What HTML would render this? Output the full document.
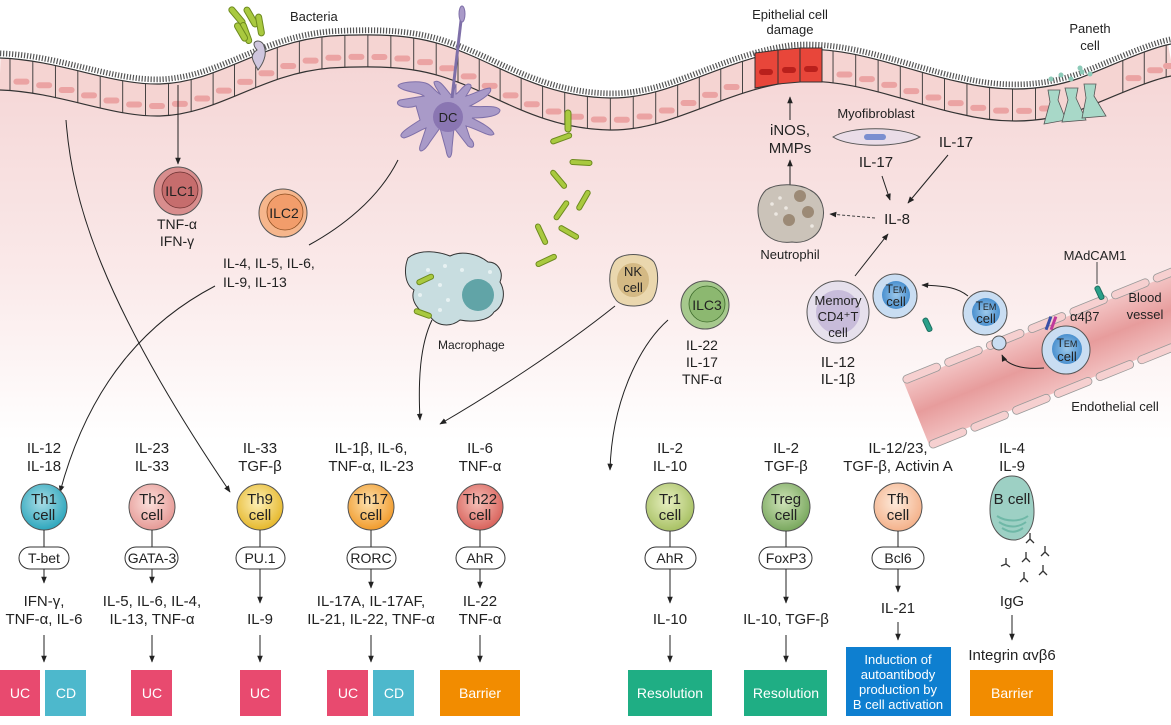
<!DOCTYPE html>
<html><head><meta charset="utf-8">
<style>
html,body{margin:0;padding:0;background:#fff;}
svg{display:block;font-family:"Liberation Sans",sans-serif;}
text{fill:#222;}
</style></head>
<body>
<svg id="s" width="1171" height="725" viewBox="0 0 1171 725" xmlns="http://www.w3.org/2000/svg">
<defs>
<linearGradient id="bg" x1="0" y1="0" x2="0" y2="1">
<stop offset="0" stop-color="#f5d6d6"/><stop offset="0.55" stop-color="#fae9e9"/><stop offset="1" stop-color="#ffffff"/>
</linearGradient>
<radialGradient id="gTh1" cx="0.45" cy="0.4" r="0.6"><stop offset="0" stop-color="#a9dde6"/><stop offset="1" stop-color="#2ea7bd"/></radialGradient>
<radialGradient id="gTh2" cx="0.45" cy="0.4" r="0.6"><stop offset="0" stop-color="#fbe0dc"/><stop offset="1" stop-color="#e69a96"/></radialGradient>
<radialGradient id="gTh9" cx="0.45" cy="0.4" r="0.6"><stop offset="0" stop-color="#fdf0b8"/><stop offset="1" stop-color="#e6b82c"/></radialGradient>
<radialGradient id="gTh17" cx="0.45" cy="0.4" r="0.6"><stop offset="0" stop-color="#fde2b0"/><stop offset="1" stop-color="#f19b2c"/></radialGradient>
<radialGradient id="gTh22" cx="0.45" cy="0.4" r="0.6"><stop offset="0" stop-color="#f6c0b8"/><stop offset="1" stop-color="#d9635c"/></radialGradient>
<radialGradient id="gTr1" cx="0.45" cy="0.4" r="0.6"><stop offset="0" stop-color="#e7efc0"/><stop offset="1" stop-color="#a8c164"/></radialGradient>
<radialGradient id="gTreg" cx="0.45" cy="0.4" r="0.6"><stop offset="0" stop-color="#cfe3b8"/><stop offset="1" stop-color="#79a85e"/></radialGradient>
<radialGradient id="gTfh" cx="0.45" cy="0.4" r="0.6"><stop offset="0" stop-color="#fdebdc"/><stop offset="1" stop-color="#f4b18a"/></radialGradient>
<radialGradient id="gTem" cx="0.5" cy="0.5" r="0.5"><stop offset="0" stop-color="#9cc8ea"/><stop offset="1" stop-color="#4a90cf"/></radialGradient>
<linearGradient id="vessel" x1="0" y1="0" x2="0" y2="1"><stop offset="0" stop-color="#f3c4c4"/><stop offset="0.5" stop-color="#e79c9c"/><stop offset="1" stop-color="#f2c0c0"/></linearGradient>
<marker id="ah" viewBox="0 0 10 10" refX="9" refY="5" markerWidth="7" markerHeight="7" orient="auto-start-reverse"><path d="M0,1 L10,5 L0,9 z" fill="#222"/></marker>
<path id="ap" d="M0,58 C60,60 110,85 160,84 C220,82 260,42 330,36 C400,32 430,38 470,55 C510,72 550,97 610,98 C670,99 720,60 790,50 C850,44 910,72 960,82 C1000,92 1040,92 1080,78 C1120,62 1150,48 1171,44"/>
</defs>

<path d="M0,90 C60,92 110,117 160,116 C220,114 260,74 330,68 C400,64 430,70 470,87 C510,104 550,129 610,130 C670,131 720,92 790,82 C850,76 910,104 960,114 C1000,124 1040,124 1080,110 C1120,94 1150,80 1171,76 L1171,440 L0,440 Z" fill="url(#bg)"/>

<use href="#ap" transform="translate(0,16)" fill="none" stroke="#f5d4d2" stroke-width="32"/>
<use href="#ap" transform="translate(0,-4)" fill="none" stroke="#555" stroke-width="7" stroke-dasharray="1.2 1.8"/>
<use href="#ap" transform="translate(0,-1)" fill="none" stroke="#fff" stroke-width="1.5"/>
<use href="#ap" fill="none" stroke="#333" stroke-width="1.2"/>
<use href="#ap" transform="translate(0,32)" fill="none" stroke="#333" stroke-width="1.2"/>
<g id="cells"></g>

<g stroke="#333" stroke-width="1">
<path d="M755,53 L778,50 L778,84 L755,88 Z" fill="#e8463a"/>
<path d="M778,50 L800,48 L800,82 L778,84 Z" fill="#e8463a"/>
<path d="M800,48 L822,48 L822,82 L800,82 Z" fill="#e8463a"/>
</g>
<g fill="#b9201c"><rect x="759" y="69" width="14" height="6" rx="3"/><rect x="782" y="67" width="14" height="6" rx="3"/><rect x="804" y="66" width="14" height="6" rx="3"/></g>

<g stroke="#555" stroke-width="0.8" fill="#a8d8c8">
<path d="M1048,90 L1060,90 L1058,100 L1066,120 L1044,124 L1050,102 Z"/>
<path d="M1065,88 L1078,88 L1076,98 L1086,120 L1062,122 L1068,100 Z"/>
<path d="M1084,84 L1096,84 L1094,96 L1106,116 L1082,118 L1086,98 Z"/>
</g>
<g fill="#8ccab8"><circle cx="1051" cy="79" r="2.5"/><circle cx="1061" cy="75" r="2.5"/><circle cx="1071" cy="79" r="2.5"/><circle cx="1082" cy="72" r="2.5"/><circle cx="1090" cy="74" r="2.5"/><circle cx="1080" cy="68" r="2.5"/></g>

<g stroke="#6d8a1e" stroke-width="1" fill="#a9c93f">
<rect x="234" y="5" width="6" height="22" rx="3" transform="rotate(-40 237 16)"/>
<rect x="248" y="6" width="6" height="22" rx="3" transform="rotate(-30 251 17)"/>
<rect x="257" y="14" width="6" height="22" rx="3" transform="rotate(-10 260 25)"/>
<rect x="243" y="22" width="6" height="22" rx="3" transform="rotate(-20 246 33)"/>
<rect x="238" y="22" width="6" height="20" rx="3" transform="rotate(-30 241 32)"/>
</g>
<path d="M257,50 C248,40 262,38 264,46 C268,55 262,65 258,70 C254,62 248,56 257,50 Z" fill="#cfc6de" stroke="#555" stroke-width="1"/>
<text x="290" y="21" font-size="13">Bacteria</text>

<g fill="#a99ac8" stroke="#7e6fa8" stroke-width="1">
<path d="M428,84 C420,80 398,82 398,86 C402,92 420,92 424,96 L400,100 C392,104 404,110 416,106 L420,120 C404,130 396,136 404,138 C412,136 420,130 426,128 L420,146 C418,154 424,152 430,142 L440,128 L446,150 C448,162 452,158 452,148 L454,128 L468,146 C474,150 476,144 470,138 L466,126 C480,130 490,138 494,134 C492,128 480,122 472,118 C486,118 500,116 500,110 C496,104 482,108 470,106 C482,100 494,92 490,88 C484,88 474,94 466,96 C470,90 474,84 468,84 C462,86 460,92 456,94 L456,84 L452,96 C446,90 440,78 434,82 C434,86 438,90 440,94 C436,92 432,86 428,84 Z"/>
</g>
<path d="M452,98 L462,12" stroke="#7e6fa8" stroke-width="3"/>
<ellipse cx="462" cy="14" rx="3" ry="8" fill="#a99ac8" stroke="#7e6fa8"/>
<circle cx="448" cy="117" r="15" fill="#8a76b2"/>
<text x="448" y="122" font-size="13" text-anchor="middle">DC</text>

<g stroke="#6d8a1e" stroke-width="1" fill="#a9c93f">
<rect x="565" y="110" width="6" height="22" rx="3"/>
<rect x="550" y="136" width="22" height="5" rx="2.5" transform="rotate(-20 561 138)"/>
<rect x="570" y="160" width="22" height="5" rx="2.5" transform="rotate(3 581 162)"/>
<rect x="548" y="177" width="22" height="5" rx="2.5" transform="rotate(50 559 179)"/>
<rect x="550" y="208" width="22" height="5" rx="2.5" transform="rotate(-55 561 210)"/>
<rect x="572" y="198" width="22" height="5" rx="2.5" transform="rotate(-60 583 200)"/>
<rect x="531" y="232" width="22" height="5" rx="2.5" transform="rotate(65 542 234)"/>
<rect x="558" y="230" width="22" height="5" rx="2.5" transform="rotate(30 569 232)"/>
<rect x="535" y="258" width="22" height="5" rx="2.5" transform="rotate(-25 546 260)"/>
</g>

<path d="M408,258 C420,248 440,252 450,256 C462,250 478,254 488,262 C498,262 504,272 500,282 C506,292 504,306 494,312 C488,322 470,322 460,320 C450,328 436,326 430,316 C418,312 410,300 414,290 C404,284 404,268 408,258 Z" fill="#c8dde0" stroke="#333" stroke-width="1"/>
<circle cx="478" cy="295" r="16" fill="#4f9a9c" opacity="0.85"/>
<g fill="#e7f1f2"><circle cx="428" cy="270" r="2"/><circle cx="445" cy="266" r="2"/><circle cx="462" cy="270" r="2"/><circle cx="420" cy="295" r="2"/><circle cx="448" cy="300" r="2"/><circle cx="440" cy="285" r="2"/><circle cx="490" cy="272" r="2"/><circle cx="440" cy="310" r="2"/></g>
<g stroke="#6d8a1e" stroke-width="1" fill="#a9c93f"><rect x="416" y="277" width="18" height="5" rx="2.5" transform="rotate(-25 425 279)"/><rect x="414" y="311" width="18" height="5" rx="2.5" transform="rotate(20 423 313)"/></g>
<text x="438" y="349" font-size="12">Macrophage</text>

<circle cx="178" cy="191" r="24" fill="#d88d8d" stroke="#555"/><circle cx="180" cy="190" r="18" fill="#c66d6d" stroke="#6a3030" stroke-width="0.8"/>
<text x="180" y="196" font-size="14" text-anchor="middle">ILC1</text>
<text x="177" y="229" font-size="14" text-anchor="middle">TNF-α</text>
<text x="177" y="246" font-size="14" text-anchor="middle">IFN-γ</text>
<circle cx="283" cy="213" r="24" fill="#f6b68c" stroke="#555"/><circle cx="285" cy="212" r="18" fill="#f29d6b" stroke="#8a4d20" stroke-width="0.8"/>
<text x="284" y="218" font-size="14" text-anchor="middle">ILC2</text>
<text x="223" y="268" font-size="14">IL-4, IL-5, IL-6,</text>
<text x="223" y="287" font-size="14">IL-9, IL-13</text>

<path d="M614,262 C620,252 646,252 654,262 C660,272 658,292 652,300 C644,308 622,308 616,300 C608,290 608,272 614,262 Z" fill="#ead7ae" stroke="#555"/>
<ellipse cx="633" cy="280" rx="16" ry="17" fill="#d4b984"/>
<text x="633" y="276" font-size="13" text-anchor="middle">NK</text><text x="633" y="292" font-size="13" text-anchor="middle">cell</text>
<circle cx="705" cy="305" r="24" fill="#a6c98d" stroke="#555"/><circle cx="707" cy="304" r="18" fill="#8cb870" stroke="#3c6a2a" stroke-width="0.8"/>
<text x="707" y="310" font-size="14" text-anchor="middle">ILC3</text>
<text x="702" y="350" font-size="14" text-anchor="middle">IL-22</text>
<text x="702" y="367" font-size="14" text-anchor="middle">IL-17</text>
<text x="702" y="384" font-size="14" text-anchor="middle">TNF-α</text>

<text x="790" y="19" font-size="13" text-anchor="middle">Epithelial cell</text>
<text x="790" y="34" font-size="13" text-anchor="middle">damage</text>
<text x="1090" y="33" font-size="13" text-anchor="middle">Paneth</text>
<text x="1090" y="50" font-size="13" text-anchor="middle">cell</text>
<line x1="790" y1="120" x2="790" y2="97" stroke="#222" marker-end="url(#ah)"/>
<text x="790" y="135" font-size="15" text-anchor="middle">iNOS,</text>
<text x="790" y="153" font-size="15" text-anchor="middle">MMPs</text>
<line x1="790" y1="185" x2="790" y2="160" stroke="#222" marker-end="url(#ah)"/>
<text x="876" y="118" font-size="13" text-anchor="middle">Myofibroblast</text>
<path d="M833,137 C850,126 900,126 920,137 C900,148 850,148 833,137 Z" fill="#eadde8" stroke="#555"/>
<rect x="864" y="134" width="22" height="6" rx="3" fill="#7b8fd0"/>
<text x="876" y="167" font-size="15" text-anchor="middle">IL-17</text>
<text x="956" y="147" font-size="15" text-anchor="middle">IL-17</text>
<line x1="882" y1="176" x2="890" y2="200" stroke="#222" marker-end="url(#ah)"/>
<line x1="948" y1="155" x2="908" y2="203" stroke="#222" marker-end="url(#ah)"/>
<text x="897" y="224" font-size="15" text-anchor="middle">IL-8</text>
<line x1="875" y1="218" x2="830" y2="214" stroke="#444" stroke-dasharray="3 2" marker-end="url(#ah)"/>
<path d="M766,190 C778,182 800,184 810,190 C822,196 826,210 822,222 C820,236 806,244 792,242 C776,244 762,236 760,222 C756,210 758,198 766,190 Z" fill="#cbc3b9" stroke="#555"/>
<circle cx="800" cy="196" r="6" fill="#9c8a76"/><circle cx="808" cy="212" r="6" fill="#9c8a76"/><circle cx="789" cy="220" r="6" fill="#9c8a76"/>
<g fill="#ede8e2"><circle cx="772" cy="204" r="1.8"/><circle cx="780" cy="198" r="1.8"/><circle cx="776" cy="214" r="1.8"/><circle cx="786" cy="208" r="1.8"/><circle cx="812" cy="226" r="1.8"/></g>
<text x="790" y="259" font-size="13" text-anchor="middle">Neutrophil</text>
<line x1="855" y1="276" x2="888" y2="234" stroke="#222" marker-end="url(#ah)"/>
<circle cx="838" cy="312" r="31" fill="#e6e0ec" stroke="#555"/><circle cx="838" cy="312" r="22" fill="#c8bcda"/>
<text x="838" y="305" font-size="13" text-anchor="middle">Memory</text>
<text x="838" y="321" font-size="13" text-anchor="middle">CD4⁺T</text>
<text x="838" y="337" font-size="13" text-anchor="middle">cell</text>
<text x="838" y="367" font-size="15" text-anchor="middle">IL-12</text>
<text x="838" y="384" font-size="15" text-anchor="middle">IL-1β</text>

<g transform="rotate(-22 1060 355)">
<rect x="905" y="322" width="330" height="66" fill="url(#vessel)"/>
<g fill="#f6d0d0" stroke="#999" stroke-width="0.8">
<rect x="905" y="316" width="40" height="8" rx="4"/><rect x="950" y="316" width="40" height="8" rx="4"/><rect x="995" y="316" width="40" height="8" rx="4"/><rect x="1040" y="316" width="40" height="8" rx="4"/><rect x="1085" y="316" width="40" height="8" rx="4"/><rect x="1130" y="316" width="40" height="8" rx="4"/><rect x="1175" y="316" width="40" height="8" rx="4"/>
<rect x="905" y="386" width="40" height="8" rx="4"/><rect x="950" y="386" width="40" height="8" rx="4"/><rect x="995" y="386" width="40" height="8" rx="4"/><rect x="1040" y="386" width="40" height="8" rx="4"/><rect x="1085" y="386" width="40" height="8" rx="4"/><rect x="1130" y="386" width="40" height="8" rx="4"/><rect x="1175" y="386" width="40" height="8" rx="4"/>
</g>
</g>
<g stroke="#1d6f60" stroke-width="1" fill="#2aa08a"><rect x="925" y="318" width="5" height="14" rx="2" transform="rotate(-25 927 325)"/><rect x="1097" y="286" width="5" height="14" rx="2" transform="rotate(-25 1099 293)"/></g>
<line x1="1097" y1="262" x2="1097" y2="284" stroke="#444"/>
<text x="1095" y="260" font-size="13" text-anchor="middle">MAdCAM1</text>
<text x="1145" y="302" font-size="13" text-anchor="middle">Blood</text>
<text x="1145" y="319" font-size="13" text-anchor="middle">vessel</text>
<text x="1115" y="411" font-size="13" text-anchor="middle">Endothelial cell</text>
<text x="1070" y="321" font-size="13">α4β7</text>
<rect x="1047" y="316" width="3" height="14" fill="#3a4fa8" transform="rotate(20 1048 323)"/><rect x="1052" y="316" width="3" height="14" fill="#c0399a" transform="rotate(20 1053 323)"/>
<circle cx="895" cy="296" r="22" fill="#c9ddf2" stroke="#555"/><circle cx="896" cy="295" r="14" fill="url(#gTem)"/>
<text x="896" y="293" font-size="12" text-anchor="middle">T<tspan font-size="9">EM</tspan></text><text x="896" y="306" font-size="13" text-anchor="middle">cell</text>
<circle cx="985" cy="313" r="22" fill="#c9ddf2" stroke="#555"/><circle cx="986" cy="312" r="14" fill="url(#gTem)"/>
<text x="986" y="310" font-size="12" text-anchor="middle">T<tspan font-size="9">EM</tspan></text><text x="986" y="323" font-size="13" text-anchor="middle">cell</text>
<circle cx="999" cy="343" r="7" fill="#c9ddf2" stroke="#555"/>
<circle cx="1066" cy="350" r="24" fill="#c9ddf2" stroke="#555"/><circle cx="1067" cy="349" r="15" fill="url(#gTem)"/>
<text x="1067" y="347" font-size="12" text-anchor="middle">T<tspan font-size="9">EM</tspan></text><text x="1067" y="361" font-size="13" text-anchor="middle">cell</text>
<path d="M1044,368 C1020,370 1006,364 1002,355" fill="none" stroke="#222" marker-end="url(#ah)"/>
<path d="M968,296 C958,288 948,286 922,285" fill="none" stroke="#222" marker-end="url(#ah)"/>

<g fill="none" stroke="#222" stroke-width="1">
<line x1="178" y1="85" x2="178" y2="164" marker-end="url(#ah)"/>
<path d="M66,120 C72,200 100,300 230,492" marker-end="url(#ah)"/>
<path d="M215,286 C150,320 90,380 60,492" marker-end="url(#ah)"/>
<path d="M398,160 C378,200 340,228 309,245"/>
<path d="M432,320 C420,345 418,380 420,420" marker-end="url(#ah)"/>
<path d="M615,306 C560,350 490,395 440,424" marker-end="url(#ah)"/>
<path d="M668,320 C640,345 612,400 610,470" marker-end="url(#ah)"/>
</g>

<g font-size="15" text-anchor="middle">
<text x="44" y="453">IL-12</text><text x="44" y="471">IL-18</text>
<text x="152" y="453">IL-23</text><text x="152" y="471">IL-33</text>
<text x="260" y="453">IL-33</text><text x="260" y="471">TGF-β</text>
<text x="371" y="453">IL-1β, IL-6,</text><text x="371" y="471">TNF-α, IL-23</text>
<text x="480" y="453">IL-6</text><text x="480" y="471">TNF-α</text>
<text x="670" y="453">IL-2</text><text x="670" y="471">IL-10</text>
<text x="786" y="453">IL-2</text><text x="786" y="471">TGF-β</text>
<text x="898" y="453">IL-12/23,</text><text x="898" y="471">TGF-β, Activin A</text>
<text x="1012" y="453">IL-4</text><text x="1012" y="471">IL-9</text>
</g>

<g stroke="#555" stroke-width="1">
<circle cx="44" cy="507" r="23" fill="url(#gTh1)"/>
<circle cx="152" cy="507" r="23" fill="url(#gTh2)"/>
<circle cx="260" cy="507" r="23" fill="url(#gTh9)"/>
<circle cx="371" cy="507" r="23" fill="url(#gTh17)"/>
<circle cx="480" cy="507" r="23" fill="url(#gTh22)"/>
<circle cx="670" cy="507" r="24" fill="url(#gTr1)"/>
<circle cx="786" cy="507" r="24" fill="url(#gTreg)"/>
<circle cx="898" cy="507" r="24" fill="url(#gTfh)"/>
<path d="M1012,476 C1030,476 1034,496 1034,512 C1034,530 1024,540 1014,540 C1000,540 990,528 990,510 C990,492 996,476 1012,476 Z" fill="#9dd0c4"/>
</g>
<g fill="none" stroke="#6fb8a7" stroke-width="2"><path d="M997,516 C1006,522 1020,522 1028,516"/><path d="M999,522 C1008,528 1018,528 1026,522"/><path d="M1002,528 C1010,533 1016,533 1023,528"/></g>
<g font-size="15" text-anchor="middle">
<text x="44" y="504">Th1</text><text x="44" y="520">cell</text>
<text x="152" y="504">Th2</text><text x="152" y="520">cell</text>
<text x="260" y="504">Th9</text><text x="260" y="520">cell</text>
<text x="371" y="504">Th17</text><text x="371" y="520">cell</text>
<text x="480" y="504">Th22</text><text x="480" y="520">cell</text>
<text x="670" y="504">Tr1</text><text x="670" y="520">cell</text>
<text x="786" y="504">Treg</text><text x="786" y="520">cell</text>
<text x="898" y="504">Tfh</text><text x="898" y="520">cell</text>
<text x="1012" y="504">B cell</text>
</g>
<g stroke="#222" stroke-width="1">
<line x1="44" y1="530" x2="44" y2="547"/><line x1="152" y1="530" x2="152" y2="547"/><line x1="260" y1="530" x2="260" y2="547"/><line x1="371" y1="530" x2="371" y2="547"/><line x1="480" y1="530" x2="480" y2="547"/><line x1="670" y1="531" x2="670" y2="547"/><line x1="786" y1="531" x2="786" y2="547"/><line x1="898" y1="531" x2="898" y2="547"/>
</g>
<g fill="#fff" stroke="#333" stroke-width="1">
<rect x="19" y="547" width="50" height="22" rx="11"/>
<rect x="125" y="547" width="53" height="22" rx="11"/>
<rect x="236" y="547" width="49" height="22" rx="11"/>
<rect x="347" y="547" width="49" height="22" rx="11"/>
<rect x="456" y="547" width="49" height="22" rx="11"/>
<rect x="645" y="547" width="51" height="22" rx="11"/>
<rect x="759" y="547" width="53" height="22" rx="11"/>
<rect x="872" y="547" width="52" height="22" rx="11"/>
</g>
<g font-size="14" text-anchor="middle">
<text x="44" y="563">T-bet</text><text x="152" y="563">GATA-3</text><text x="260" y="563">PU.1</text><text x="371" y="563">RORC</text><text x="480" y="563">AhR</text><text x="670" y="563">AhR</text><text x="786" y="563">FoxP3</text><text x="898" y="563">Bcl6</text>
</g>
<g stroke="#222" stroke-width="1" marker-end="url(#ah)">
<line x1="44" y1="569" x2="44" y2="583"/><line x1="152" y1="569" x2="152" y2="583"/><line x1="260" y1="569" x2="260" y2="603"/><line x1="371" y1="569" x2="371" y2="588"/><line x1="480" y1="569" x2="480" y2="588"/><line x1="670" y1="569" x2="670" y2="603"/><line x1="786" y1="569" x2="786" y2="603"/><line x1="898" y1="569" x2="898" y2="592"/>
<line x1="44" y1="635" x2="44" y2="662"/><line x1="152" y1="635" x2="152" y2="662"/><line x1="260" y1="635" x2="260" y2="662"/><line x1="371" y1="635" x2="371" y2="662"/><line x1="480" y1="635" x2="480" y2="662"/><line x1="670" y1="635" x2="670" y2="662"/><line x1="786" y1="635" x2="786" y2="662"/><line x1="898" y1="622" x2="898" y2="640"/><line x1="1012" y1="615" x2="1012" y2="640"/>
</g>
<g font-size="15" text-anchor="middle">
<text x="44" y="606">IFN-γ,</text><text x="44" y="624">TNF-α, IL-6</text>
<text x="152" y="606">IL-5, IL-6, IL-4,</text><text x="152" y="624">IL-13, TNF-α</text>
<text x="260" y="624">IL-9</text>
<text x="371" y="606">IL-17A, IL-17AF,</text><text x="371" y="624">IL-21, IL-22, TNF-α</text>
<text x="480" y="606">IL-22</text><text x="480" y="624">TNF-α</text>
<text x="670" y="624">IL-10</text>
<text x="786" y="624">IL-10, TGF-β</text>
<text x="898" y="613">IL-21</text>
<text x="1012" y="606">IgG</text>
<text x="1012" y="660">Integrin αvβ6</text>
</g>
<g stroke="#333" stroke-width="1.3" fill="none">
<path d="M1030,533 l0,6 m0,0 l-4,4 m4,-4 l4,4"/>
<path d="M1026,552 l0,6 m0,0 l-4,4 m4,-4 l4,4"/>
<path d="M1045,546 l0,6 m0,0 l-4,4 m4,-4 l4,4"/>
<path d="M1010,567 l-4,-3 m0,0 l0,-6 m0,6 l-5,2"/>
<path d="M1024,572 l0,6 m0,0 l-4,4 m4,-4 l4,4"/>
<path d="M1043,565 l0,6 m0,0 l-4,4 m4,-4 l4,4"/>
</g>

<g font-size="14" text-anchor="middle">
<rect x="0" y="670" width="40" height="46" fill="#e84a6f"/><text x="20" y="698" style="fill:#fff">UC</text>
<rect x="45" y="670" width="41" height="46" fill="#4db8cc"/><text x="66" y="698" style="fill:#fff">CD</text>
<rect x="131" y="670" width="41" height="46" fill="#e84a6f"/><text x="152" y="698" style="fill:#fff">UC</text>
<rect x="240" y="670" width="41" height="46" fill="#e84a6f"/><text x="260" y="698" style="fill:#fff">UC</text>
<rect x="327" y="670" width="41" height="46" fill="#e84a6f"/><text x="348" y="698" style="fill:#fff">UC</text>
<rect x="373" y="670" width="41" height="46" fill="#4db8cc"/><text x="394" y="698" style="fill:#fff">CD</text>
<rect x="440" y="670" width="80" height="46" fill="#f28c00"/><text x="480" y="698" style="fill:#fff">Barrier</text>
<rect x="628" y="670" width="84" height="46" fill="#1fae84"/><text x="670" y="698" style="fill:#fff">Resolution</text>
<rect x="744" y="670" width="83" height="46" fill="#1fae84"/><text x="786" y="698" style="fill:#fff">Resolution</text>
<rect x="846" y="647" width="105" height="69" fill="#0e7fd0"/>
<text x="898" y="664" font-size="13" style="fill:#fff">Induction of</text>
<text x="898" y="679" font-size="13" style="fill:#fff">autoantibody</text>
<text x="898" y="694" font-size="13" style="fill:#fff">production by</text>
<text x="898" y="709" font-size="13" style="fill:#fff">B cell activation</text>
<rect x="970" y="670" width="83" height="46" fill="#f28c00"/><text x="1012" y="698" style="fill:#fff">Barrier</text>
</g>
</svg>
<script>
(function(){
var ns="http://www.w3.org/2000/svg";
var p=document.getElementById('ap');var L=p.getTotalLength();var g=document.getElementById('cells');
for(var l=10;l<L;l+=23){var a=p.getPointAtLength(l);
 if(a.x>752&&a.x<824)continue;
 if(a.x>1042&&a.x<1104)continue;
 var ln=document.createElementNS(ns,'line');ln.setAttribute('x1',a.x);ln.setAttribute('y1',a.y);ln.setAttribute('x2',a.x);ln.setAttribute('y2',a.y+32);ln.setAttribute('stroke','#333');ln.setAttribute('stroke-width','0.9');g.appendChild(ln);
 var b=p.getPointAtLength(l+11.5);
 if(b.x>752&&b.x<824)continue;
 var r=document.createElementNS(ns,'rect');r.setAttribute('x',b.x-8);r.setAttribute('y',b.y+19);r.setAttribute('width',16);r.setAttribute('height',6);r.setAttribute('rx',3);r.setAttribute('fill','#eba3a3');g.appendChild(r);}
})();
</script>
</body></html>
